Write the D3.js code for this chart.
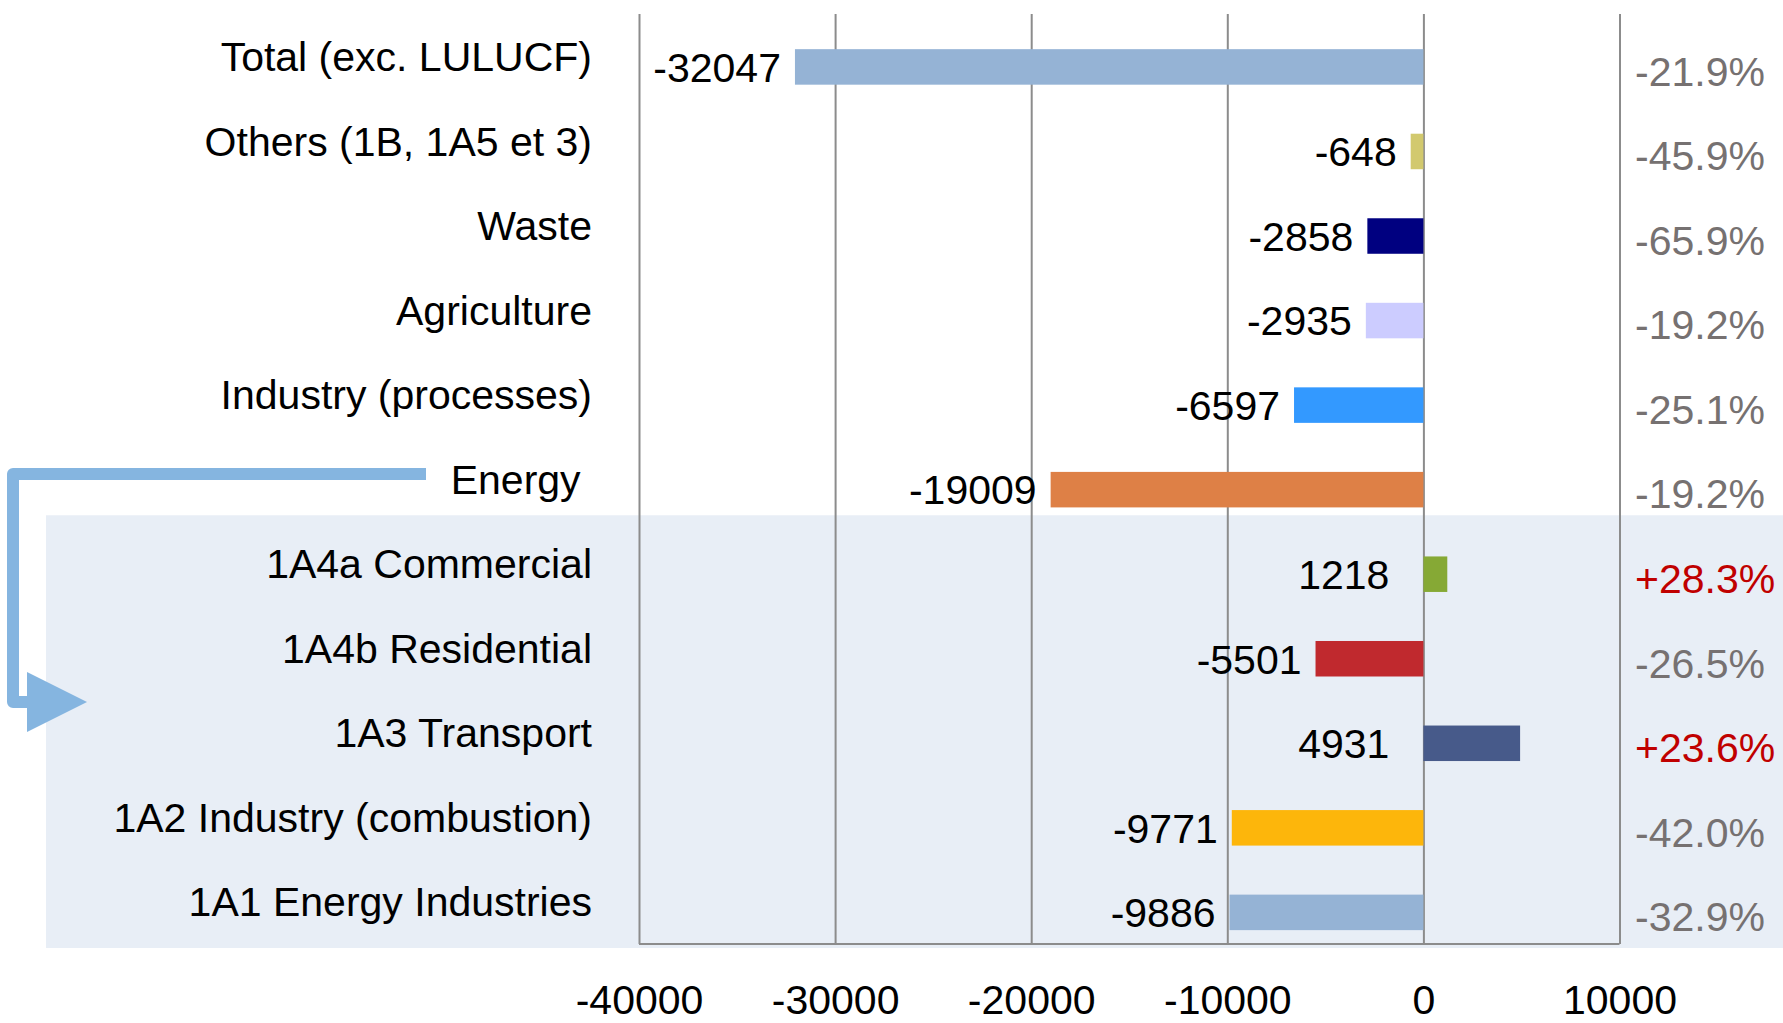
<!DOCTYPE html>
<html>
<head>
<meta charset="utf-8">
<script src="https://cdn.jsdelivr.net/npm/d3@7"></script>
<style>
  html, body { margin: 0; padding: 0; background: #ffffff; }
  svg { display: block; }
  text { font-family: "Liberation Sans", Arial, sans-serif; }
</style>
</head>
<body>
<svg id="chart" width="1783" height="1023"></svg>
<script>
// ---- data ----
const categories = [
  "Total (exc. LULUCF)",
  "Others (1B, 1A5 et 3)",
  "Waste",
  "Agriculture",
  "Industry (processes)",
  "Energy\u00a0",
  "1A4a Commercial",
  "1A4b Residential",
  "1A3 Transport",
  "1A2 Industry (combustion)",
  "1A1 Energy Industries"
];
const values = [-32047, -648, -2858, -2935, -6597, -19009, 1218, -5501, 4931, -9771, -9886];
const percentLabels = ["-21.9%", "-45.9%", "-65.9%", "-19.2%", "-25.1%", "-19.2%", "+28.3%", "-26.5%", "+23.6%", "-42.0%", "-32.9%"];
const barColors = ["#95B3D5", "#D2C96E", "#000080", "#CCCCFF", "#3399FF", "#DE8046", "#86A935", "#C0292E", "#475A8A", "#FDB60B", "#95B3D5"];
const tickValues = [-40000, -30000, -20000, -10000, 0, 10000];
const tickLabels = ["-40000", "-30000", "-20000", "-10000", "0", "10000"];

// ---- layout ----
const W = 1783, H = 1023;
const plot = { left: 639, right: 1619.5, top: 14, bottom: 944 };
const FONT = 41;
const svg = d3.select("#chart");

const x = d3.scaleLinear().domain([-40000, 10000]).range([plot.left, plot.right]);
const y = d3.scaleBand().domain(categories).range([plot.top, plot.bottom]).paddingInner(0).paddingOuter(0);
const step = y.step();
const barH = step * 0.42;
const barShift = step * 0.126;
const rows = categories.map((c, i) => ({ cat: c, v: values[i], pct: percentLabels[i], color: barColors[i] }));
const bandMid = c => y(c) + y.bandwidth() / 2;
const barMid = c => bandMid(c) + barShift;

// shaded group background (energy sub-sectors)
const firstSub = categories[6];
svg.append("rect")
  .attr("x", 46).attr("y", y(firstSub) - 6)
  .attr("width", W - 46).attr("height", plot.bottom + 4 - (y(firstSub) - 6))
  .attr("fill", "#E8EEF6");

// gridlines + x axis via d3.axisBottom
const axis = d3.axisBottom(x)
  .tickValues(tickValues)
  .tickFormat((d, i) => tickLabels[i])
  .tickSize(-(plot.bottom - plot.top))
  .tickPadding(0);
const gAxis = svg.append("g").attr("transform", `translate(0,${plot.bottom})`).call(axis);
gAxis.select(".domain").attr("stroke", "#8C8C8C").attr("stroke-width", 2).attr("d", `M${plot.left},0H${plot.right}`);
gAxis.selectAll(".tick line").attr("stroke", "#8C8C8C").attr("stroke-width", 2);
gAxis.selectAll(".tick text")
  .attr("y", 70).attr("dy", null)
  .attr("font-size", FONT).attr("fill", "#000000")
  .attr("font-family", '"Liberation Sans", Arial, sans-serif');

// bars
svg.append("g").selectAll("rect").data(rows).join("rect")
  .attr("x", d => Math.min(x(d.v), x(0)))
  .attr("y", d => barMid(d.cat) - barH / 2)
  .attr("width", d => Math.abs(x(d.v) - x(0)))
  .attr("height", barH)
  .attr("fill", d => d.color);

// value labels
svg.append("g").selectAll("text").data(rows).join("text")
  .attr("x", d => d.v < 0 ? x(d.v) - 14 : x(0) - 34)
  .attr("y", d => barMid(d.cat))
  .attr("dy", "0.36em")
  .attr("text-anchor", "end")
  .attr("font-size", FONT)
  .attr("fill", "#000000")
  .text(d => String(d.v));

// category labels
svg.append("g").selectAll("text").data(rows).join("text")
  .attr("x", 592)
  .attr("y", d => bandMid(d.cat))
  .attr("dy", "0.36em")
  .attr("text-anchor", "end")
  .attr("font-size", FONT)
  .attr("fill", "#000000")
  .text(d => d.cat);

// percentage labels
svg.append("g").selectAll("text").data(rows).join("text")
  .attr("x", 1635)
  .attr("y", d => barMid(d.cat) + 4)
  .attr("dy", "0.36em")
  .attr("text-anchor", "start")
  .attr("font-size", FONT)
  .attr("fill", d => d.pct.startsWith("+") ? "#C00000" : "#767171")
  .text(d => d.pct);

// connector arrow from "Energy" to the sub-sectors
const energyY = bandMid(categories[5]) - 5;
const arrowY = 702;
svg.append("path")
  .attr("d", `M426,${energyY}H13V${arrowY}H32`)
  .attr("fill", "none")
  .attr("stroke", "#85B5E0")
  .attr("stroke-width", 12)
  .attr("stroke-linejoin", "round");
svg.append("path")
  .attr("d", `M27,${arrowY - 30}L87,${arrowY}L27,${arrowY + 30}Z`)
  .attr("fill", "#85B5E0");
</script>
</body>
</html>
